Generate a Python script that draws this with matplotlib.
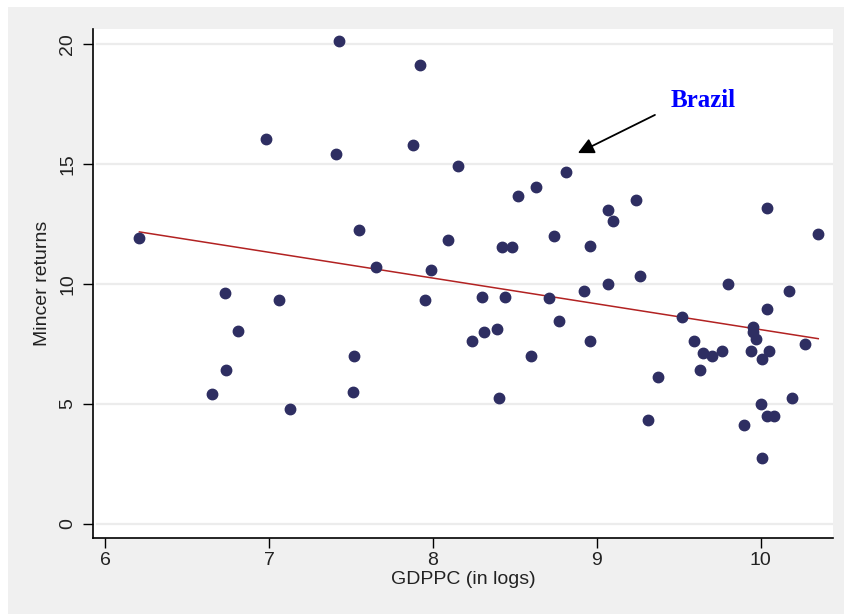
import numpy as np
import matplotlib
matplotlib.use("Agg")
import matplotlib.pyplot as plt
from matplotlib.patches import Rectangle

# Log GDP per capita and Mincerian returns to schooling, one entry per country
gdppc_log = [
    6.21, 6.65, 6.73, 6.74, 6.81, 6.98, 7.06, 7.13, 7.41, 7.43,
    7.51, 7.52, 7.55, 7.65, 7.88, 7.92, 7.95, 7.99, 8.09, 8.15,
    8.24, 8.30, 8.31, 8.39, 8.40, 8.42, 8.44, 8.48, 8.52, 8.60,
    8.63, 8.71, 8.74, 8.77, 8.81, 8.92, 8.96, 8.96, 9.07, 9.07,
    9.10, 9.24, 9.26, 9.31, 9.37, 9.52, 9.59, 9.63, 9.65, 9.70,
    9.76, 9.80, 9.90, 9.94, 9.95, 9.95, 9.97, 10.00, 10.01, 10.01,
    10.04, 10.04, 10.04, 10.05, 10.08, 10.17, 10.19, 10.27, 10.35,
]
mincer_returns = [
    11.90, 5.40, 9.61, 6.40, 8.02, 16.03, 9.31, 4.77, 15.40, 20.11,
    5.49, 6.98, 12.23, 10.70, 15.78, 19.11, 9.32, 10.57, 11.82, 14.90,
    7.61, 9.43, 7.99, 8.11, 5.24, 11.53, 9.43, 11.53, 13.65, 6.99,
    14.03, 9.40, 11.99, 8.45, 14.65, 9.69, 11.57, 7.61, 13.07, 9.99,
    12.61, 13.49, 10.32, 4.32, 6.11, 8.61, 7.61, 6.40, 7.11, 6.99,
    7.20, 9.99, 4.11, 7.20, 8.19, 7.99, 7.70, 4.99, 6.86, 2.74,
    8.94, 13.15, 4.49, 7.20, 4.49, 9.69, 5.24, 7.49, 12.06,
]
x_ticks = [6, 7, 8, 9, 10]
y_ticks = [0, 5, 10, 15, 20]

x = np.asarray(gdppc_log)
y = np.asarray(mincer_returns)

# Linear fit over the observed range
slope, intercept = np.polyfit(x, y, 1)
x_fit = np.array([x.min(), x.max()])
y_fit = intercept + slope * x_fit

plt.rcParams["font.family"] = ["Liberation Sans", "DejaVu Sans"]

fig = plt.figure(figsize=(8.44, 6.14), dpi=100, facecolor="white")
# Light grey graph region behind the white plot region
fig.patches.append(Rectangle((8 / 844, 0), 1 - 8 / 844, 1 - 7 / 614,
                             transform=fig.transFigure, facecolor="#f0f0f0",
                             edgecolor="none", zorder=-10))

ax = fig.add_axes([92.7 / 844, (614 - 538.3) / 614,
                   (833 - 92.7) / 844, (538.3 - 29) / 614])
ax.set_zorder(1)
ax.set_facecolor("white")
ax.set_xlim(5.925, 10.44)
ax.set_ylim(-0.61, 20.61)

for t in y_ticks:
    ax.axhline(t, xmin=0.006, xmax=1, color="#ececec", lw=1.6, zorder=0)

ax.plot(x_fit, y_fit, color="#b22222", lw=1.1, zorder=2)
ax.plot(x, y, "o", ms=7.5, color="#2e2e62", mec="#2e2e62", zorder=3)

ax.set_xticks(x_ticks)
ax.set_yticks(y_ticks)
ax.tick_params(axis="both", direction="out", length=7, width=1, color="black",
               labelsize=14, labelcolor="#222222", pad=5)
ax.tick_params(axis="x", pad=3)
plt.setp(ax.get_yticklabels(), rotation=90, va="center")

for side in ("top", "right"):
    ax.spines[side].set_visible(False)
for side in ("left", "bottom"):
    ax.spines[side].set_color("black")
    ax.spines[side].set_linewidth(1.2)

ax.set_xlabel("GDPPC (in logs)", fontsize=14, color="#222222", labelpad=1)
ax.set_ylabel("Mincer returns", fontsize=14, color="#222222", labelpad=6)

ax.annotate("", xy=(8.884, 15.44), xytext=(9.354, 17.03),
            arrowprops=dict(arrowstyle="-|>", color="black", lw=1.3,
                            mutation_scale=24, shrinkA=0, shrinkB=0))
ax.text(9.646, 17.65, "Brazil", color="#0000ff", fontsize=18,
        fontweight="bold", family=["Liberation Serif", "DejaVu Serif"],
        ha="center", va="center")

fig.savefig("out.png", dpi=100, facecolor=fig.get_facecolor())
